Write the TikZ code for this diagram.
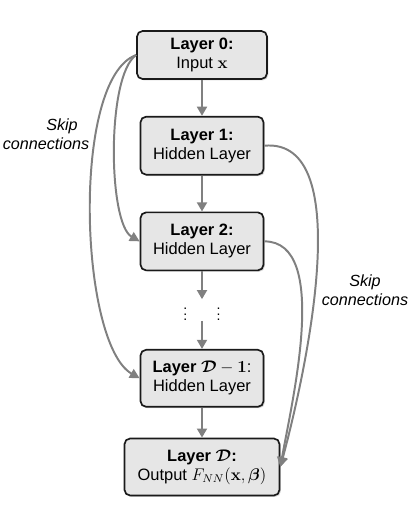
\documentclass[tikz,border=0pt]{standalone}
\usepackage{amsmath}
\usepackage{amssymb}
\usepackage[no-math]{fontspec}
\setmainfont{Liberation Sans}
\usepackage{xcolor}
\usepackage{tikz}
\usetikzlibrary{arrows.meta, positioning, shadows}
\definecolor{boxfill}{HTML}{E6E6E6}
\definecolor{boxline}{HTML}{1A1A1A}
\definecolor{linkgray}{HTML}{808080}
\tikzset{
  layer/.style={
    rectangle, rounded corners=4pt,
    minimum width=3.075cm, minimum height=1.45cm,
    align=center, draw=boxline, line width=1.2pt,
    fill=boxfill, font=\fontsize{11.7}{13.5}\selectfont,
    drop shadow={shadow xshift=1pt, shadow yshift=-1pt, opacity=0.3},
  },
  flow/.style={-{Triangle[length=6.5pt, width=7pt]}, line width=2pt, color=linkgray},
  skip/.style={-{Triangle[length=7pt, width=7pt]}, line width=1.4pt, color=linkgray},
  skiplabel/.style={font=\fontsize{11.5}{13.5}\selectfont\itshape, align=center},
}
\begin{document}
\begin{tikzpicture}
  \useasboundingbox (-5.05,1.375) rectangle (5.325,-11.475);

  \node[layer, minimum width=3.25cm, minimum height=1.2cm] (l0) at (0,0) {\textbf{Layer 0:}\\Input $\mathbf{x}$};
  \node[layer, below=0.9cm of l0] (l1) {\textbf{Layer 1:}\\Hidden Layer};
  \node[layer, below=0.9cm of l1] (l2) {\textbf{Layer 2:}\\Hidden Layer};
  \node[minimum height=0.5cm, inner sep=0pt, below=0.7cm of l2] (dots) {$\vdots$\hspace{0.73cm}$\vdots$};
  \node[layer, minimum height=1.425cm, below=0.7cm of dots] (l3) {\textbf{Layer $\boldsymbol{\mathcal{D}}-\mathbf{1}$}:\\Hidden Layer};
  \node[layer, minimum width=3.875cm, minimum height=1.425cm, below=0.75cm of l3] (lD) {\textbf{Layer $\boldsymbol{\mathcal{D}}$:}\\Output $F_{NN}(\mathbf{x},\boldsymbol{\beta})$};

  \node[skiplabel] (skipL) at (-3.9,-1.975) {\hspace*{0.8cm}Skip\\connections};
  \node[skiplabel] (skipR) at (4.075,-5.875) {Skip\\connections};

  \draw[flow] (l0) -- (l1);
  \draw[flow] (l1) -- (l2);
  \draw[flow] (l2) -- (dots);
  \draw[flow] (dots) -- (l3);
  \draw[flow] (l3) -- (lD);

  \draw[skip] (l0.west) to[out=215, in=150, looseness=0.5] (l2.west);
  \draw[skip] (l0.west) to[out=200, in=150, looseness=0.55] (l3.west);
  \draw[skip] (l1.east) to[out=5, in=75, looseness=0.75] (lD.east);
  \draw[skip] (l2.east) to[out=0, in=80, looseness=0.75] (lD.east);

\end{tikzpicture}
\end{document}
